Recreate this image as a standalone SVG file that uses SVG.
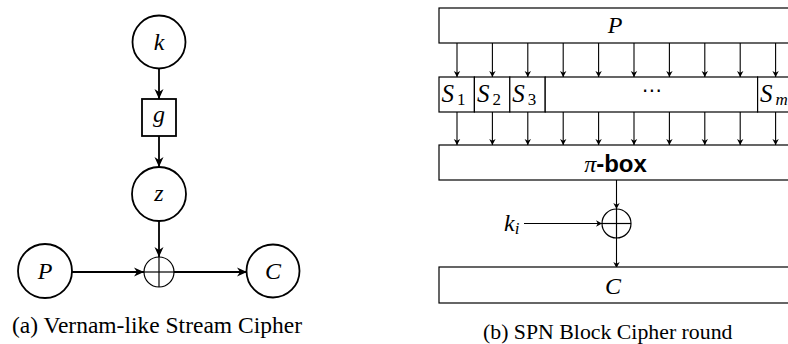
<svg xmlns="http://www.w3.org/2000/svg" width="788" height="344" viewBox="0 0 788 344">
<defs>
<marker id="ah" markerWidth="12" markerHeight="10" refX="10" refY="5" orient="auto" markerUnits="userSpaceOnUse">
<path d="M0,0.5 L10,5 L0,9.5 L3,5 Z" fill="#000"/>
</marker>
<marker id="as" markerWidth="8" markerHeight="8" refX="6" refY="4" orient="auto" markerUnits="userSpaceOnUse">
<path d="M0,0.8 L6,4 L0,7.2 L1.8,4 Z" fill="#000"/>
</marker>
</defs>
<style>
.n{fill:#fff;stroke:#000;stroke-width:1.8}
.b{fill:#fff;stroke:#000;stroke-width:1.2}
.x{fill:none;stroke:#000;stroke-width:1.2}
</style>
<rect width="788" height="344" fill="#fff"/>

<g id="connectors" stroke="#000" fill="none">
<g stroke-width="1.8" marker-end="url(#ah)">
<line x1="159" y1="68" x2="159" y2="99"/>
<line x1="159" y1="136" x2="159" y2="167"/>
<line x1="159" y1="221" x2="159" y2="257"/>
<line x1="72" y1="272" x2="144" y2="272"/>
<line x1="174" y1="272" x2="247" y2="272"/>
</g>
<g stroke-width="1.1" marker-end="url(#as)">
<g id="p-arrows">
<line x1="457" y1="43" x2="457" y2="77"/>
<line x1="492.4" y1="43" x2="492.4" y2="77"/>
<line x1="527.8" y1="43" x2="527.8" y2="77"/>
<line x1="563.2" y1="43" x2="563.2" y2="77"/>
<line x1="598.6" y1="43" x2="598.6" y2="77"/>
<line x1="634" y1="43" x2="634" y2="77"/>
<line x1="669.4" y1="43" x2="669.4" y2="77"/>
<line x1="704.8" y1="43" x2="704.8" y2="77"/>
<line x1="740.2" y1="43" x2="740.2" y2="77"/>
<line x1="775.6" y1="43" x2="775.6" y2="77"/>
</g>
<g id="s-arrows">
<line x1="457" y1="112" x2="457" y2="145"/>
<line x1="492.4" y1="112" x2="492.4" y2="145"/>
<line x1="527.8" y1="112" x2="527.8" y2="145"/>
<line x1="563.2" y1="112" x2="563.2" y2="145"/>
<line x1="598.6" y1="112" x2="598.6" y2="145"/>
<line x1="634" y1="112" x2="634" y2="145"/>
<line x1="669.4" y1="112" x2="669.4" y2="145"/>
<line x1="704.8" y1="112" x2="704.8" y2="145"/>
<line x1="740.2" y1="112" x2="740.2" y2="145"/>
<line x1="775.6" y1="112" x2="775.6" y2="145"/>
</g>
<line x1="616.5" y1="180" x2="616.5" y2="209"/>
<line x1="524" y1="223.5" x2="602" y2="223.5"/>
<line x1="616.5" y1="238" x2="616.5" y2="268"/>
</g>
</g>

<g font-family="Liberation Serif" font-size="24" font-style="italic" text-anchor="middle">
<g id="node-k"><circle class="n" cx="159" cy="42" r="26.5"/><text x="159" y="50">k</text></g>
<g id="node-g"><rect class="n" x="142" y="99" width="34" height="37"/><text x="159" y="122">g</text></g>
<g id="node-z"><circle class="n" cx="159" cy="194" r="27"/><text x="159" y="201">z</text></g>
<g id="node-P"><circle class="n" cx="45" cy="271" r="27"/><text x="45" y="279">P</text></g>
<g id="node-xor" class="x"><circle cx="159" cy="272" r="15"/><line x1="144" y1="272" x2="174" y2="272"/><line x1="159" y1="257" x2="159" y2="287"/></g>
<g id="node-C"><circle class="n" cx="273" cy="271" r="26.5"/><text x="273" y="279">C</text></g>

<g id="box-P"><rect class="b" x="439" y="8" width="360" height="35"/><text x="615" y="33">P</text></g>
<g id="box-S1"><rect class="b" x="439" y="77" width="35.4" height="35"/><text x="441.5" y="102" text-anchor="start" font-size="25">S<tspan dx="3" dy="3" font-size="17" font-style="normal">1</tspan></text></g>
<g id="box-S2"><rect class="b" x="474.4" y="77" width="35.4" height="35"/><text x="476.9" y="102" text-anchor="start" font-size="25">S<tspan dx="3" dy="3" font-size="17" font-style="normal">2</tspan></text></g>
<g id="box-S3"><rect class="b" x="509.8" y="77" width="35.4" height="35"/><text x="512.3" y="102" text-anchor="start" font-size="25">S<tspan dx="3" dy="3" font-size="17" font-style="normal">3</tspan></text></g>
<g id="box-dots"><rect class="b" x="545.2" y="77" width="212.4" height="35"/><text x="652" y="97" font-style="normal" font-family="DejaVu Sans" font-size="20">⋯</text></g>
<g id="box-Sm"><rect class="b" x="757.6" y="77" width="40" height="35"/><text x="760" y="102" text-anchor="start" font-size="25">S<tspan dx="3" dy="3" font-size="17">m</tspan></text></g>
<g id="box-pi"><rect class="b" x="439" y="145" width="360" height="35"/><text x="615.5" y="172">π<tspan font-family="Liberation Sans" font-weight="bold" font-style="normal" font-size="24">-box</tspan></text></g>
<g id="node-xor2" class="x"><circle cx="616.5" cy="223.5" r="14.5"/><line x1="602" y1="223.5" x2="631" y2="223.5"/><line x1="616.5" y1="209" x2="616.5" y2="238"/></g>
<g id="label-ki"><text x="504" y="231" text-anchor="start">k<tspan dy="3" font-size="17">i</tspan></text></g>
<g id="box-C"><rect class="b" x="439" y="267" width="360" height="36"/><text x="613" y="294">C</text></g>
</g>
<text x="12" y="333" font-family="Liberation Serif" font-size="23.5">(a) Vernam-like Stream Cipher</text>
<text x="483" y="339" font-family="Liberation Serif" font-size="21.8">(b) SPN Block Cipher round</text>
</svg>
